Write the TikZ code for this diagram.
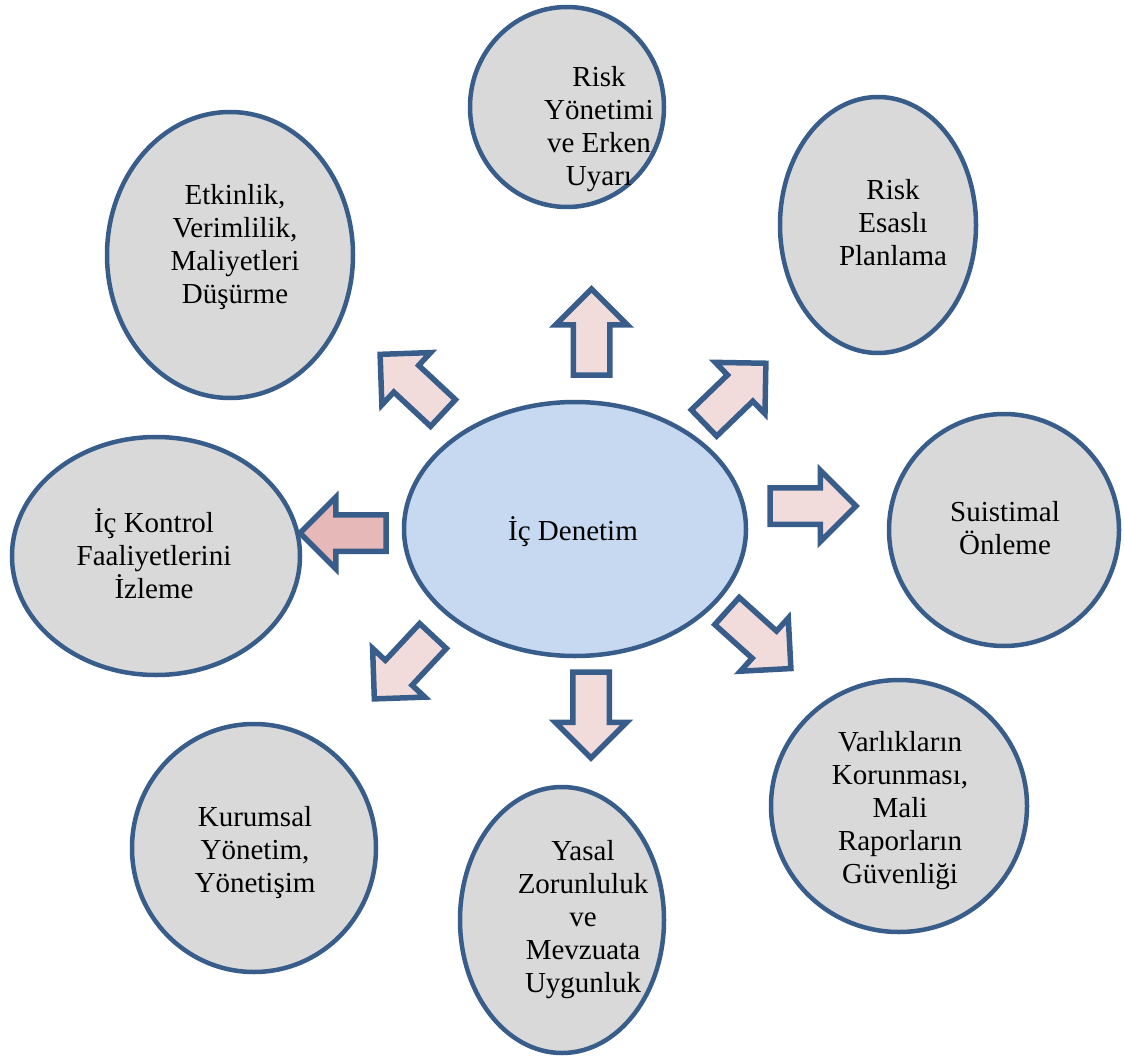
\documentclass[tikz,border=0pt]{standalone}
\usepackage{fontspec}
\setmainfont{Liberation Serif}
\usetikzlibrary{shapes.geometric,shapes.arrows}
\definecolor{rim}{HTML}{385D8A}
\definecolor{grayfill}{HTML}{D9D9D9}
\definecolor{bluefill}{HTML}{C6D9F1}
\definecolor{pinkfill}{HTML}{F2DCDB}
\definecolor{rosefill}{HTML}{E6B9B8}
\begin{document}
\begin{tikzpicture}[x=1pt,y=-1pt,
  bubble/.style={ellipse,draw=rim,fill=grayfill,line width=4.5pt,inner sep=0pt},
  core/.style={bubble,fill=bluefill},
  caption/.style={align=center,inner sep=0pt,outer sep=0pt,
    font=\fontsize{29}{33}\selectfont,
    execute at begin node=\strut,execute at end node=\strut},
  blockarrow/.style={single arrow,draw=rim,fill=pinkfill,line width=5.5pt,
    inner xsep=0pt,inner ysep=15.5pt,outer sep=0pt,
    single arrow head extend=17.5pt,single arrow tip angle=90,
    minimum height=86pt,anchor=tail}]
\useasboundingbox (0,0) rectangle (1124,1059);

% central ellipse
\node[core,minimum width=342pt,minimum height=254pt] (center) at (575,529) {};

% surrounding ellipses
\node[bubble,minimum width=194pt,minimum height=200pt] (risk) at (567,107) {};
\node[bubble,minimum width=196pt,minimum height=256pt] (plan) at (878,225) {};
\node[bubble,minimum width=230pt,minimum height=232pt] (fraud) at (1004,530) {};
\node[bubble,minimum width=256pt,minimum height=252pt] (assets) at (899,806) {};
\node[bubble,minimum width=204pt,minimum height=266pt] (legal) at (562,920) {};
\node[bubble,minimum width=244pt,minimum height=248pt] (gov) at (254,848) {};
\node[bubble,minimum width=288pt,minimum height=238pt] (ctrl) at (156,556) {};
\node[bubble,minimum width=246pt,minimum height=286pt] (eff) at (230,255) {};

% texts
\node[caption] (tcenter) at (573,533.4) {İç Denetim};
\node[caption] (trisk) at (599,130.9) {Risk\\Yönetimi\\ve Erken\\Uyarı};
\node[caption] (tplan) at (893,227.4) {Risk\\Esaslı\\Planlama};
\node[caption] (tfraud) at (1005,532.9) {Suistimal\\Önleme};
\node[caption] (tassets) at (900,812.4) {Varlıkların\\Korunması,\\Mali\\Raporların\\Güvenliği};
\node[caption] (tlegal) at (583,921.4) {Yasal\\Zorunluluk\\ve\\Mevzuata\\Uygunluk};
\node[caption] (tgov) at (255,854.4) {Kurumsal\\Yönetim,\\Yönetişim};
\node[caption] (tctrl) at (154,558.4) {İç Kontrol\\Faaliyetlerini\\İzleme};
\node[caption] (teff) at (235,248.9) {Etkinlik,\\Verimlilik,\\Maliyetleri\\Düşürme};

% block arrows pointing outwards
\node[blockarrow,rotate=90] (aup) at (591.5,375) {};
\node[blockarrow,rotate=44] (aur) at (704,423) {};
\node[blockarrow,rotate=0] (aright) at (770,506) {};
\node[blockarrow,rotate=-42] (alr) at (727,611) {};
\node[blockarrow,rotate=-90] (adown) at (591,672) {};
\node[blockarrow,rotate=-133] (all) at (433,636) {};
\node[blockarrow,rotate=180,fill=rosefill] (aleft) at (386,533) {};
\node[blockarrow,rotate=137] (aul) at (443,413) {};
\end{tikzpicture}
\end{document}
